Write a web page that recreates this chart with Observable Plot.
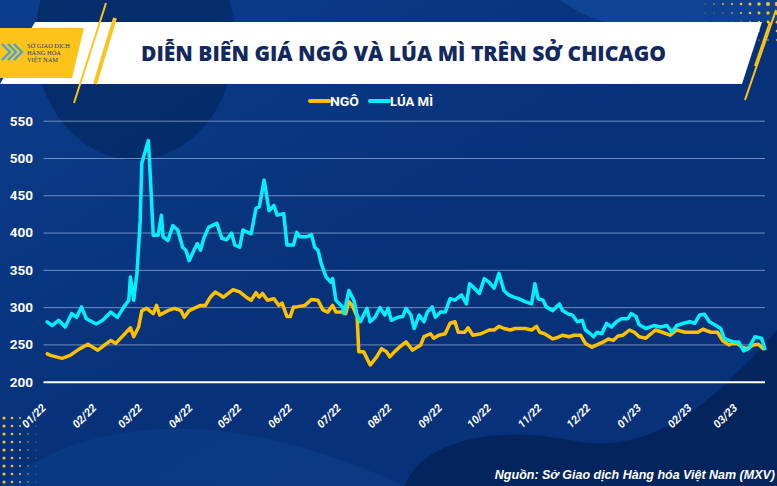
<!DOCTYPE html>
<html>
<head>
<meta charset="utf-8">
<script src="https://cdn.jsdelivr.net/npm/d3@7"></script>
<script src="https://cdn.jsdelivr.net/npm/@observablehq/plot@0.6"></script>
<style>
  html, body { margin: 0; padding: 0; width: 777px; height: 486px; overflow: hidden; background: #0a347c; }
  #wrap { position: relative; width: 777px; height: 486px; overflow: hidden; }
  #bg, #chart { position: absolute; left: 0; top: 0; }
  #chart svg { overflow: visible; }
</style>
</head>
<body>
<div id="wrap">
<svg id="bg" width="777" height="486" viewBox="0 0 777 486" xmlns="http://www.w3.org/2000/svg">
  <defs>
    <linearGradient id="bgGrad" x1="0" y1="0" x2="1" y2="1">
      <stop offset="0" stop-color="#0c3d8c"/>
      <stop offset="0.5" stop-color="#07327a"/>
      <stop offset="1" stop-color="#083178"/>
    </linearGradient>
  </defs>
  <rect width="777" height="486" fill="url(#bgGrad)"/>
  <ellipse cx="135" cy="40" rx="100" ry="120" fill="#052a66" opacity="0.85"/>
  <path d="M 560 0 C 600 30, 660 40, 777 20 L 777 0 Z" fill="#1a56b0" opacity="0.45"/>
  <path d="M 405 486 C 420 440, 500 425, 570 440 C 640 455, 700 420, 777 330 L 777 486 Z" fill="#04245a" opacity="0.9"/>
  <path d="M 0 486 C 80 420, 220 400, 405 486 Z" fill="#0d3f8e" opacity="0.5"/>
  <g id="dotsTR"></g>
  <g id="dotsBL"></g>
  <!-- banner -->
  <polygon points="35,22 762,22 742,84 0,84" fill="#ffffff"/>
  <polygon points="0,28 84,28 72,78 0,78" fill="#fcc31a"/>
  <line x1="106" y1="3" x2="74" y2="103" stroke="#fcc31a" stroke-width="2"/>
  <line x1="115" y1="18" x2="95" y2="84" stroke="#fcc31a" stroke-width="4"/>
  <line x1="776" y1="10" x2="745" y2="100" stroke="#fcc31a" stroke-width="2"/>
  <line x1="770" y1="22" x2="755" y2="66" stroke="#fcc31a" stroke-width="2"/>
  <g fill="none" stroke="#3aa6e8" stroke-width="2.2">
    <polyline points="2,44 10,52 2,60"/>
    <polyline points="8,44 16,52 8,60"/>
    <polyline points="14,44 22,52 14,60"/>
  </g>
  <g fill="#23407a" font-family="'Liberation Serif', serif" font-size="6.4">
    <text x="27" y="48">SỞ GIAO DỊCH</text>
    <text x="27" y="55">HÀNG HÓA</text>
    <text x="27" y="62">VIỆT NAM</text>
  </g>
  <text x="141" y="61" textLength="525" lengthAdjust="spacingAndGlyphs" font-family="'Open Sans', Roboto, sans-serif" font-weight="800" font-size="21" fill="#13295e">DIỄN BIẾN GIÁ NGÔ VÀ LÚA MÌ TRÊN SỞ CHICAGO</text>
  <!-- legend -->
  <line x1="310" y1="101" x2="329" y2="101" stroke="#ffc000" stroke-width="4" stroke-linecap="round"/>
  <text x="330" y="105.5" font-family="Roboto, sans-serif" font-weight="bold" font-size="12" fill="#ffffff" textLength="29" lengthAdjust="spacingAndGlyphs">NGÔ</text>
  <line x1="370" y1="101" x2="389" y2="101" stroke="#00f0ff" stroke-width="4" stroke-linecap="round"/>
  <text x="390" y="105.5" font-family="Roboto, sans-serif" font-weight="bold" font-size="12" fill="#ffffff" textLength="43" lengthAdjust="spacingAndGlyphs">LÚA MÌ</text>
  <text x="775" y="479" text-anchor="end" font-family="'Liberation Sans', Arial, sans-serif" font-weight="bold" font-style="italic" font-size="12.5" fill="#ffffff">Nguồn: Sở Giao dịch Hàng hóa Việt Nam (MXV)</text>
</svg>
<div id="chart"></div>
</div>
<script>
// ---- data (USD cents/bushel) ----
const xTickDates = ["2022-01-01","2022-02-01","2022-03-01","2022-04-01","2022-05-01","2022-06-01","2022-07-01","2022-08-01","2022-09-01","2022-10-01","2022-11-01","2022-12-01","2023-01-01","2023-02-01","2023-03-01"];
const yTicks = [200, 250, 300, 350, 400, 450, 500, 550];

const cornDates = ["2022-01-03","2022-01-05","2022-01-12","2022-01-17","2022-01-23","2022-01-28","2022-02-03","2022-02-11","2022-02-14","2022-02-23","2022-02-25","2022-02-28","2022-03-02","2022-03-05","2022-03-09","2022-03-11","2022-03-13","2022-03-18","2022-03-22","2022-03-26","2022-03-28","2022-03-31","2022-04-03","2022-04-07","2022-04-10","2022-04-13","2022-04-16","2022-04-19","2022-04-21","2022-04-24","2022-04-27","2022-05-01","2022-05-05","2022-05-08","2022-05-11","2022-05-13","2022-05-15","2022-05-18","2022-05-22","2022-05-25","2022-05-27","2022-05-30","2022-06-01","2022-06-03","2022-06-05","2022-06-10","2022-06-14","2022-06-18","2022-06-21","2022-06-24","2022-06-27","2022-06-29","2022-07-03","2022-07-05","2022-07-07","2022-07-09","2022-07-12","2022-07-13","2022-07-16","2022-07-20","2022-07-24","2022-07-27","2022-07-30","2022-08-01","2022-08-04","2022-08-07","2022-08-11","2022-08-15","2022-08-20","2022-08-22","2022-08-26","2022-08-28","2022-08-31","2022-09-04","2022-09-07","2022-09-10","2022-09-12","2022-09-16","2022-09-18","2022-09-21","2022-09-26","2022-10-01","2022-10-04","2022-10-07","2022-10-10","2022-10-14","2022-10-17","2022-10-23","2022-10-27","2022-10-30","2022-11-01","2022-11-04","2022-11-09","2022-11-12","2022-11-15","2022-11-19","2022-11-22","2022-11-26","2022-11-29","2022-12-03","2022-12-06","2022-12-10","2022-12-13","2022-12-16","2022-12-19","2022-12-22","2022-12-26","2022-12-29","2023-01-01","2023-01-05","2023-01-11","2023-01-15","2023-01-20","2023-01-24","2023-01-29","2023-02-02","2023-02-06","2023-02-09","2023-02-14","2023-02-18","2023-02-21","2023-02-25","2023-02-27","2023-03-02","2023-03-05","2023-03-08","2023-03-12","2023-03-15","2023-03-18"];
const cornPrices = [238,236,232,236,245,251,243,256,252,273,261,274,296,299,292,303,290,296,299,296,287,296,299,303,303,314,321,317,314,319,324,321,314,310,320,314,319,310,312,303,306,288,288,301,301,303,311,310,297,294,303,294,294,292,308,303,288,241,241,223,234,245,241,234,241,247,254,243,250,261,265,259,263,265,279,281,267,267,273,263,265,270,270,275,272,270,272,272,270,275,267,265,258,260,263,261,263,263,252,247,250,254,258,256,262,263,270,267,261,259,270,267,263,270,267,267,267,271,267,267,256,250,252,252,247,245,250,251,245];

const wheatDates = ["2022-01-03","2022-01-06","2022-01-10","2022-01-14","2022-01-18","2022-01-21","2022-01-24","2022-01-27","2022-02-02","2022-02-06","2022-02-11","2022-02-15","2022-02-19","2022-02-22","2022-02-23","2022-02-25","2022-02-27","2022-03-01","2022-03-02","2022-03-06","2022-03-07","2022-03-09","2022-03-12","2022-03-14","2022-03-15","2022-03-18","2022-03-21","2022-03-24","2022-03-27","2022-03-29","2022-03-31","2022-04-03","2022-04-05","2022-04-07","2022-04-09","2022-04-12","2022-04-17","2022-04-20","2022-04-23","2022-04-26","2022-04-28","2022-05-01","2022-05-03","2022-05-08","2022-05-11","2022-05-13","2022-05-16","2022-05-19","2022-05-22","2022-05-24","2022-05-28","2022-05-30","2022-06-03","2022-06-05","2022-06-07","2022-06-11","2022-06-14","2022-06-16","2022-06-18","2022-06-20","2022-06-23","2022-06-26","2022-06-27","2022-06-29","2022-07-03","2022-07-04","2022-07-07","2022-07-10","2022-07-12","2022-07-14","2022-07-18","2022-07-20","2022-07-23","2022-07-26","2022-07-29","2022-07-31","2022-08-02","2022-08-06","2022-08-09","2022-08-11","2022-08-14","2022-08-16","2022-08-19","2022-08-22","2022-08-24","2022-08-27","2022-08-29","2022-09-01","2022-09-04","2022-09-07","2022-09-10","2022-09-14","2022-09-17","2022-09-19","2022-09-21","2022-09-25","2022-09-28","2022-10-01","2022-10-04","2022-10-07","2022-10-10","2022-10-13","2022-10-16","2022-10-19","2022-10-23","2022-10-27","2022-10-29","2022-10-31","2022-11-03","2022-11-05","2022-11-09","2022-11-13","2022-11-15","2022-11-18","2022-11-21","2022-11-24","2022-11-27","2022-11-29","2022-12-02","2022-12-04","2022-12-06","2022-12-09","2022-12-12","2022-12-15","2022-12-18","2022-12-21","2022-12-25","2022-12-27","2022-12-30","2023-01-01","2023-01-05","2023-01-10","2023-01-14","2023-01-18","2023-01-21","2023-01-24","2023-01-28","2023-02-01","2023-02-04","2023-02-07","2023-02-10","2023-02-13","2023-02-17","2023-02-20","2023-02-22","2023-02-25","2023-02-28","2023-03-03","2023-03-06","2023-03-09","2023-03-13","2023-03-17","2023-03-19"];
const wheatPrices = [281,276,283,274,292,287,301,285,278,283,294,287,301,310,341,310,346,417,494,524,484,397,397,424,395,390,410,404,381,377,363,377,386,377,393,408,413,393,391,400,384,381,404,399,433,435,471,430,437,424,426,384,384,401,395,395,398,381,377,359,341,334,339,310,301,292,323,310,290,281,299,281,287,300,290,299,283,287,288,299,290,272,290,281,294,301,287,294,294,312,310,317,305,332,328,319,339,334,326,346,323,317,314,312,308,305,332,312,310,301,296,305,296,292,290,281,283,270,265,261,267,265,279,274,281,285,285,292,288,277,272,276,274,276,267,276,279,281,279,290,291,281,276,272,259,256,254,254,242,245,261,259,245];

const seriesNames = ["NGÔ", "LÚA MÌ"];
const seriesColors = ["#ffc000", "#00f0ff"];

// ---- build tables ----
const corn = cornDates.map((d, i) => ({date: new Date(d + "T00:00Z"), price: cornPrices[i], series: seriesNames[0]}));
const wheat = wheatDates.map((d, i) => ({date: new Date(d + "T00:00Z"), price: wheatPrices[i], series: seriesNames[1]}));
const xTicks = xTickDates.map(d => new Date(d + "T00:00Z"));

// decorative dots (not data)
(function () {
  const ns = "http://www.w3.org/2000/svg";
  const tr = document.getElementById("dotsTR");
  for (let c = 0; c < 9; c++) for (let r = 0; r < 5; r++) {
    const e = document.createElementNS(ns, "circle");
    const x = 777 - c * 9, y = 4 + r * 9;
    const s = Math.max(0.4, 2.2 - c * 0.22 - r * 0.3);
    e.setAttribute("cx", x); e.setAttribute("cy", y); e.setAttribute("r", s);
    e.setAttribute("fill", "#fcc31a"); tr.appendChild(e);
  }
  const bl = document.getElementById("dotsBL");
  for (let c = 0; c < 5; c++) for (let r = 0; r < 9; r++) {
    const e = document.createElementNS(ns, "circle");
    const x = 4 + c * 8, y = 418 + r * 8;
    const s = Math.max(0.4, 1.6 - c * 0.3);
    e.setAttribute("cx", x); e.setAttribute("cy", y); e.setAttribute("r", s);
    e.setAttribute("fill", "#fcc31a"); bl.appendChild(e);
  }
})();

const chart = Plot.plot({
  width: 777,
  height: 486,
  marginLeft: 43.5,
  marginRight: 12,
  marginTop: 120.7,
  marginBottom: 104.3,
  style: {background: "transparent", color: "#ffffff", fontFamily: "Roboto, sans-serif", overflow: "visible"},
  x: {type: "utc", domain: [new Date("2022-01-01T00:00Z"), new Date("2023-03-19T10:00Z")]},
  y: {domain: [200, 550]},
  marks: [
    Plot.gridY(yTicks.filter(d => d > 200), {stroke: "#9aaccc", strokeOpacity: 0.75, strokeWidth: 1}),
    Plot.ruleY([200], {stroke: "#ffffff", strokeWidth: 2}),
    Plot.axisY({ticks: yTicks, tickSize: 0, tickPadding: 11, fontSize: 13.5, fontWeight: "bold", fill: "#ffffff", label: null}),
    Plot.axisX({ticks: xTicks, tickFormat: d3.utcFormat("%m/%y"), tickRotate: -45, tickSize: 0, tickPadding: 24, fontSize: 11, fontWeight: "bold", fontStyle: "italic", fill: "#ffffff", label: null}),
    Plot.lineY(corn, {x: "date", y: "price", stroke: seriesColors[0], strokeWidth: 3.5, strokeLinejoin: "round"}),
    Plot.lineY(wheat, {x: "date", y: "price", stroke: seriesColors[1], strokeWidth: 3.5, strokeLinejoin: "round"})
  ]
});
document.getElementById("chart").appendChild(chart);
</script>
</body>
</html>
